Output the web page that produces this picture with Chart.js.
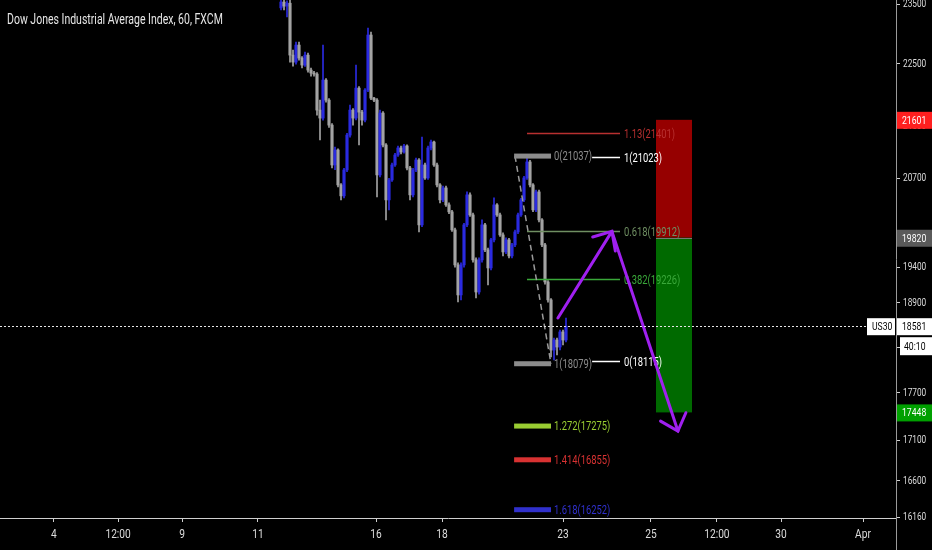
<!DOCTYPE html>
<html lang="en">
<head>
    <meta charset="UTF-8">
    <title>Dow Jones Industrial Average Index, 60, FXCM</title>
    <script src="https://cdn.jsdelivr.net/npm/chart.js"></script>
    <style>
        body {
            background-color: #000;
            margin: 0;
            padding: 0;
        }
        #chart {
            display: block;
        }
    </style>
</head>
<body>
    <canvas id="chart" width="932" height="550"></canvas>
    <script>
        // hourly candles (bar index, one every 3px)
        const opens = [23440, 23540, 23470, 23520, 22646, 22531, 22812, 22597, 22482, 22646, 22400, 22351, 22335, 21755, 21629, 22237, 21914, 21518, 20901, 21131, 20599, 20435, 20825, 21362, 21755, 21629, 22107, 21723, 21597, 22075, 22980, 21946, 21914, 20750, 21708, 21208, 20375, 20674, 20901, 21054, 21162, 21100, 21193, 20855, 20450, 20825, 20977, 20007, 20901, 20704, 21162, 21254, 20901, 20599, 20375, 20554, 20301, 20198, 19934, 19431, 19010, 19431, 20007, 20450, 20153, 19502, 19051, 19502, 20007, 19645, 19388, 19789, 20301, 20153, 19861, 19616, 19789, 19559, 19717, 19905, 20153, 20375, 20704, 20947, 20599, 20227, 20494, 20080, 19717, 19191, 18941, 18261, 18395, 18301, 18503, 18395];
        const highs = [23750, 23575, 23560, 23575, 22729, 22862, 22862, 22620, 22696, 22680, 22433, 22380, 22360, 21914, 22812, 22260, 21940, 21540, 21177, 21150, 20620, 20850, 21390, 21834, 21780, 22482, 22130, 21750, 22100, 23098, 23030, 21960, 21940, 21755, 21730, 21230, 20700, 20930, 21080, 21193, 21190, 21220, 21210, 20880, 20850, 21008, 21000, 21332, 20930, 21190, 21285, 21270, 20930, 20620, 20580, 20580, 20330, 20220, 19960, 19460, 19460, 20030, 20494, 20480, 20180, 19530, 19530, 20080, 20030, 19670, 19810, 20405, 20320, 20180, 19890, 19820, 19810, 19740, 19930, 20180, 20400, 20730, 21008, 20970, 20620, 20520, 20520, 20100, 19740, 19210, 18960, 18420, 18420, 18530, 18530, 18693];
        const lows = [23403, 23403, 23284, 22531, 22465, 22498, 22564, 22433, 22460, 22367, 22302, 22300, 21676, 21285, 21597, 21880, 21480, 20855, 20830, 20570, 20375, 20405, 20800, 21330, 21518, 21600, 21208, 21518, 21570, 22050, 21920, 21890, 20420, 20720, 21180, 20080, 20227, 20650, 20880, 21030, 21070, 21080, 20825, 20375, 20420, 20800, 19905, 19980, 20680, 20680, 21130, 20880, 20570, 20330, 20350, 20280, 20170, 19910, 19400, 18913, 18941, 19400, 19980, 20130, 19470, 18968, 19020, 19470, 19620, 19149, 19360, 19760, 20130, 19840, 19559, 19590, 19530, 19530, 19690, 19880, 20130, 20350, 20680, 20570, 20200, 20200, 20050, 19690, 19160, 18910, 18168, 18128, 18194, 18261, 18328, 18370];
        const closes = [23540, 23470, 23520, 22646, 22531, 22812, 22597, 22482, 22646, 22400, 22351, 22335, 21755, 21629, 22237, 21914, 21518, 20901, 21131, 20599, 20435, 20825, 21362, 21755, 21629, 22107, 21723, 21597, 22075, 22980, 21946, 21914, 20750, 21708, 21208, 20375, 20674, 20901, 21054, 21162, 21100, 21193, 20855, 20450, 20825, 20977, 20007, 20901, 20704, 21162, 21254, 20901, 20599, 20375, 20554, 20301, 20198, 19934, 19431, 19010, 19431, 20007, 20450, 20153, 19502, 19051, 19502, 20007, 19645, 19388, 19789, 20301, 20153, 19861, 19616, 19789, 19559, 19717, 19905, 20153, 20375, 20704, 20947, 20599, 20227, 20494, 20080, 19717, 19191, 18941, 18261, 18395, 18301, 18503, 18395, 18581];

        // time axis (positions in bar units) and price axis
        const dateLabels = ['4', '12:00', '9', '11', '16', '18', '23', '25', '12:00', '30', 'Apr'];
        const datePos = [-75.7, -54.3, -33, -7.7, 31.7, 53.7, 94, 123.3, 145.3, 166.7, 194];
        const priceTicks = [23500, 22500, 21500, 20700, 19800, 19400, 18900, 18300, 17700, 17100, 16600, 16160];

        // fibonacci retracement drawn 18115 -> 21023
        const fibRatios = ['1.13', '1', '0.618', '0.382', '0'];
        const fibValues = [21401, 21023, 19912, 19226, 18115];
        // second fib 21037 -> 18079 with extensions
        const extRatios = ['0', '1', '1.272', '1.414', '1.618'];
        const extValues = [21037, 18079, 17275, 16855, 16252];

        // short position box: stop, entry, target
        const boxPrices = [21601, 19820, 17448];
        const lastPrice = 18581;
        // projected path of the arrows (bar, price)
        const arrowBars = [92.3, 110.3, 132.3];
        const arrowPrices = [18693, 19912, 17212];

        const font = "Roboto, 'DejaVu Sans', sans-serif";
        const squeeze = 0.75;   // the screenshot text is horizontally condensed
        const upColor = '#2a2ae0';
        const downColor = '#a3a3a3';
        const fibColors = ['#b83030', '#ffffff', '#6f8f62', '#3aa83a', '#ffffff'];
        const extColors = ['#8c8c8c', '#8c8c8c', '#9acd32', '#d83232', '#3030cc'];

        const bars = opens.map((o, i) => i);
        const candleColor = ctx => {
            const i = ctx.dataIndex;
            return closes[i] >= opens[i] ? upColor : downColor;
        };

        function narrowText(ctx, t, x, y, k) {
            ctx.fillText(t, x, y, ctx.measureText(t).width * (k || squeeze));
        }

        function arrowHead(ctx, x1, y1, x2, y2) {
            const a = Math.atan2(y1 - y2, x1 - x2);
            const len = 20, spread = 0.73;
            ctx.beginPath();
            ctx.moveTo(x2 + len * Math.cos(a - spread), y2 + len * Math.sin(a - spread));
            ctx.lineTo(x2, y2);
            ctx.lineTo(x2 + len * Math.cos(a + spread), y2 + len * Math.sin(a + spread));
            ctx.stroke();
        }

        function badge(ctx, x, yc, w, text, bg, fg) {
            ctx.fillStyle = bg;
            ctx.fillRect(x, yc - 8, w, 17);
            ctx.fillStyle = fg;
            ctx.textAlign = 'left';
            ctx.textBaseline = 'middle';
            narrowText(ctx, text, x + 5, yc + 1);
        }

        // squeeze the axis labels the same way through fillText's maxWidth
        const narrowTicks = {
            id: 'narrowTicks',
            beforeDraw(chart) {
                Object.values(chart.scales).forEach(s => {
                    if (s._narrowed) return;
                    s._narrowed = true;
                    const k = s.axis === 'x' ? 0.85 : 0.72;
                    const orig = s.getLabelItems;
                    s.getLabelItems = function (area) {
                        const items = orig.call(this, area);
                        items.forEach(it => {
                            if (it.options.maxWidth === undefined) {
                                this.ctx.save();
                                this.ctx.font = it.font.string;
                                it.options.maxWidth = this.ctx.measureText(String(it.label)).width * k;
                                this.ctx.restore();
                            }
                        });
                        return items;
                    };
                });
            }
        };

        const overlay = {
            id: 'overlay',
            afterDatasetsDraw(chart) {
                const ctx = chart.ctx;
                const X = v => chart.scales.x.getPixelForValue(v);
                const Y = v => chart.scales.y.getPixelForValue(v);
                ctx.save();

                // risk / reward box
                const bx1 = X(125), bx2 = X(137);
                ctx.fillStyle = '#960000';
                ctx.fillRect(bx1, Y(boxPrices[0]), bx2 - bx1, Y(boxPrices[1]) - Y(boxPrices[0]));
                ctx.fillStyle = '#006a00';
                ctx.fillRect(bx1, Y(boxPrices[1]), bx2 - bx1, Y(boxPrices[2]) - Y(boxPrices[1]));
                ctx.strokeStyle = '#777';
                ctx.lineWidth = 1;
                ctx.beginPath();
                ctx.moveTo(bx1, Math.round(Y(boxPrices[1])) + 0.5);
                ctx.lineTo(bx2, Math.round(Y(boxPrices[1])) + 0.5);
                ctx.stroke();

                // retracement levels
                ctx.font = '12.5px ' + font;
                ctx.textBaseline = 'middle';
                ctx.textAlign = 'left';
                fibValues.forEach((v, i) => {
                    const yy = Math.round(Y(v)) + 0.5;
                    const from = (fibRatios[i] === '1' || fibRatios[i] === '0') ? 103.7 : 82;
                    ctx.strokeStyle = fibColors[i];
                    ctx.lineWidth = 1.5;
                    ctx.beginPath();
                    ctx.moveTo(X(from), yy);
                    ctx.lineTo(X(113), yy);
                    ctx.stroke();
                    ctx.fillStyle = fibColors[i];
                    narrowText(ctx, fibRatios[i] + '(' + v + ')', X(114.3), yy + 1);
                });

                // dashed trend of the second fib
                ctx.strokeStyle = '#9a9a9a';
                ctx.lineWidth = 1.5;
                ctx.setLineDash([6, 4]);
                ctx.beginPath();
                ctx.moveTo(X(78), Y(extValues[0]));
                ctx.lineTo(X(90), Y(extValues[1]));
                ctx.stroke();
                ctx.setLineDash([]);

                // extension levels (short thick bars)
                extValues.forEach((v, i) => {
                    const yy = Y(v);
                    ctx.fillStyle = extColors[i];
                    ctx.fillRect(X(77.7), yy - 2.5, X(90) - X(77.7), 5);
                    narrowText(ctx, extRatios[i] + '(' + v + ')', X(91), yy + 1);
                });

                // purple arrows
                ctx.strokeStyle = '#a020f0';
                ctx.lineWidth = 3;
                ctx.lineCap = 'round';
                for (let i = 0; i < arrowBars.length - 1; i++) {
                    const x1 = X(arrowBars[i]), y1 = Y(arrowPrices[i]);
                    const x2 = X(arrowBars[i + 1]), y2 = Y(arrowPrices[i + 1]);
                    ctx.beginPath();
                    ctx.moveTo(x1, y1);
                    ctx.lineTo(x2, y2);
                    ctx.stroke();
                    arrowHead(ctx, x1, y1, x2, y2);
                }
                ctx.lineCap = 'butt';

                // last price dotted line
                const ly = Math.round(Y(lastPrice)) + 0.5;
                ctx.strokeStyle = '#e6e6e6';
                ctx.lineWidth = 1;
                ctx.setLineDash([2, 2]);
                ctx.beginPath();
                ctx.moveTo(0, ly);
                ctx.lineTo(867, ly);
                ctx.stroke();
                ctx.setLineDash([]);
                ctx.restore();
            },
            afterDraw(chart) {
                const ctx = chart.ctx;
                const Y = v => chart.scales.y.getPixelForValue(v);
                const ax = chart.chartArea.right;
                ctx.save();
                ctx.strokeStyle = '#9a9a9a';
                ctx.lineWidth = 1;
                ctx.beginPath();
                ctx.moveTo(ax + 0.5, chart.chartArea.bottom);
                ctx.lineTo(ax + 0.5, chart.height);
                ctx.stroke();

                ctx.font = '11.5px ' + font;
                badge(ctx, ax + 1, Y(boxPrices[0]), 36, String(boxPrices[0]), '#ff1f1f', '#fff');
                badge(ctx, ax + 1, Y(boxPrices[1]), 36, String(boxPrices[1]), '#5a5a5a', '#fff');
                badge(ctx, ax + 1, Y(boxPrices[2]), 36, String(boxPrices[2]), '#00a000', '#fff');
                const ly = Y(lastPrice);
                badge(ctx, ax + 1, ly, 36, String(lastPrice), '#ffffff', '#000');
                badge(ctx, ax - 29, ly, 28, 'US30', '#ffffff', '#000');
                ctx.fillStyle = '#ffffff';
                ctx.fillRect(ax + 4, ly + 11, 33, 18);
                ctx.fillStyle = '#000';
                narrowText(ctx, '40:10', ax + 8, ly + 21);

                ctx.font = '14px ' + font;
                ctx.fillStyle = '#e6e6e6';
                ctx.textAlign = 'left';
                ctx.textBaseline = 'middle';
                narrowText(ctx, 'Dow Jones Industrial Average Index, 60, FXCM', 7, 20);
                ctx.restore();
            }
        };

        Chart.defaults.font.family = font;
        Chart.defaults.color = '#dcdcdc';

        new Chart(document.getElementById('chart'), {
            type: 'bar',
            data: {
                datasets: [{
                    label: 'body',
                    data: bars.map(i => ({ x: i, y: [opens[i], closes[i]] })),
                    backgroundColor: candleColor,
                    barThickness: 2.5,
                    minBarLength: 1,
                    grouped: false
                }, {
                    label: 'wick',
                    data: bars.map(i => ({ x: i, y: [lows[i], highs[i]] })),
                    backgroundColor: candleColor,
                    barThickness: 1,
                    grouped: false
                }]
            },
            options: {
                responsive: false,
                animation: false,
                devicePixelRatio: 1,
                layout: { padding: 0 },
                plugins: {
                    legend: { display: false },
                    tooltip: { enabled: false }
                },
                scales: {
                    x: {
                        type: 'linear',
                        offset: false,
                        min: -93.67,
                        max: 205,
                        grid: { display: true, offset: false, drawOnChartArea: false, color: '#cfcfcf', tickLength: 4 },
                        border: { color: '#cfcfcf' },
                        ticks: {
                            autoSkip: false,
                            maxRotation: 0,
                            padding: 6,
                            font: { size: 12 },
                            callback: (v, i) => dateLabels[i]
                        },
                        afterBuildTicks: s => { s.ticks = datePos.map(v => ({ value: v })); },
                        afterFit: s => { s.height = 32; s.paddingLeft = 0; s.paddingRight = 0; }
                    },
                    y: {
                        type: 'logarithmic',
                        position: 'right',
                        min: 16154,
                        max: 23575,
                        grid: { display: true, drawOnChartArea: false, color: '#cfcfcf', tickLength: 4 },
                        border: { color: '#9a9a9a' },
                        ticks: {
                            padding: 3,
                            font: { size: 11.5 },
                            callback: v => String(v)
                        },
                        afterBuildTicks: s => { s.ticks = priceTicks.map(v => ({ value: v })); },
                        afterFit: s => { s.width = 36; s.paddingTop = 0; s.paddingBottom = 0; }
                    }
                }
            },
            plugins: [narrowTicks, overlay]
        });
    </script>
</body>
</html>
